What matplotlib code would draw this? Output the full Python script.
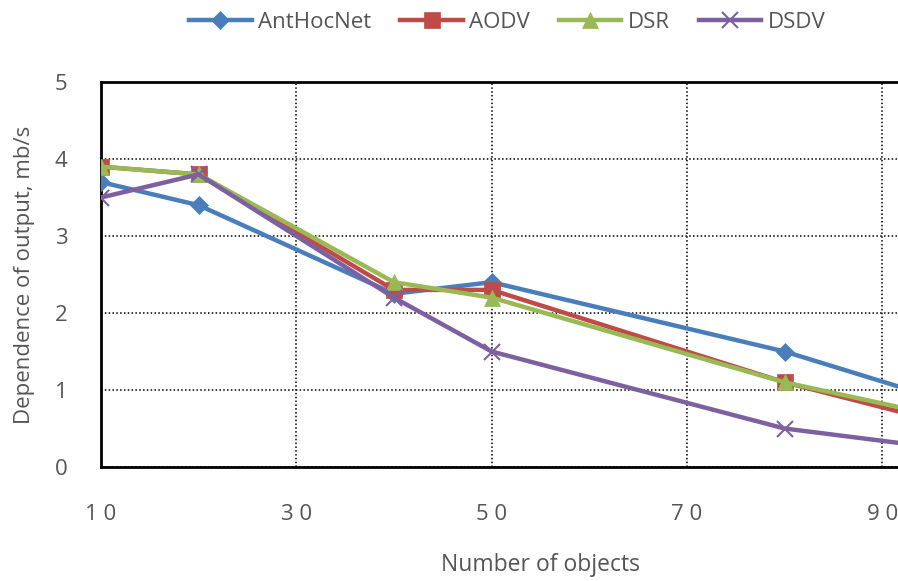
import matplotlib
matplotlib.use("Agg")
import matplotlib.pyplot as plt
from matplotlib.lines import Line2D

# ---- data ----
x_objects = [10, 20, 40, 50, 80, 100]
anthocnet = [3.7, 3.4, 2.25, 2.4, 1.5, 0.72]
aodv      = [3.9, 3.8, 2.3, 2.3, 1.1, 0.45]
dsr       = [3.9, 3.8, 2.4, 2.2, 1.1, 0.55]
dsdv      = [3.5, 3.8, 2.2, 1.5, 0.5, 0.18]
series_names = ["AntHocNet", "AODV", "DSR", "DSDV"]
x_ticks = [10, 30, 50, 70, 90]
x_tick_labels = ["1 0", "3 0", "5 0", "7 0", "9 0"]
y_ticks = [0, 1, 2, 3, 4, 5]

colors = ["#4A7EBB", "#BE4B48", "#98B954", "#7D60A0"]
markers = ["D", "s", "^", "x"]
msizes = [9, 11, 11, 12]

font = ["Open Sans", "DejaVu Sans"]
plt.rcParams["font.family"] = font
txt_color = "#555555"

fig = plt.figure(figsize=(8.98, 5.81), dpi=100)
ax = fig.add_axes([101/898, (581-467)/581, 1 - 101/898 + 0.002, (467-82)/581])

for vals, name, c, m, ms in zip([anthocnet, aodv, dsr, dsdv], series_names, colors, markers, msizes):
    ax.plot(x_objects, vals, color=c, lw=3.2, marker=m, markersize=ms,
            markeredgewidth=1.5 if m == "x" else 0.5, markeredgecolor=c,
            label=name, solid_capstyle="round", clip_on=True, zorder=3)

ax.set_xlim(10, 91.8)
ax.set_ylim(0, 5)
ax.set_xticks(x_ticks)
ax.set_xticklabels(x_tick_labels)
ax.set_yticks(y_ticks)
ax.tick_params(axis="both", length=0, labelsize=16, colors=txt_color)
ax.tick_params(axis="x", pad=27)
ax.tick_params(axis="y", pad=24)
ax.grid(True, color="black", linestyle=(0, (1, 1.5)), linewidth=1.1)
ax.set_axisbelow(True)
for s in ["left", "bottom", "top"]:
    ax.spines[s].set_linewidth(2)
    ax.spines[s].set_color("black")
ax.spines["right"].set_visible(False)

ax.set_xlabel("Number of objects", fontsize=16.5, color=txt_color)
ax.xaxis.set_label_coords((540 - 101) / 797, -(565 - 467) / 385)
ax.xaxis.label.set_verticalalignment("center")
ax.set_ylabel("Dependence of output, mb/s", fontsize=16, color=txt_color, labelpad=14)

handles = [Line2D([0], [0], color=c, lw=3.2, marker=m, markersize=ms,
                  markeredgewidth=1.5 if m == "x" else 0.5, markeredgecolor=c)
           for c, m, ms in zip(colors, markers, msizes)]
fig.legend(handles, series_names, loc="center", bbox_to_anchor=(0.565, 1 - 22/581),
           ncol=4, frameon=False, fontsize=16, handlelength=2.8, columnspacing=1.3,
           handletextpad=0.3, labelcolor=txt_color)

fig.savefig("out.png", dpi=100)
